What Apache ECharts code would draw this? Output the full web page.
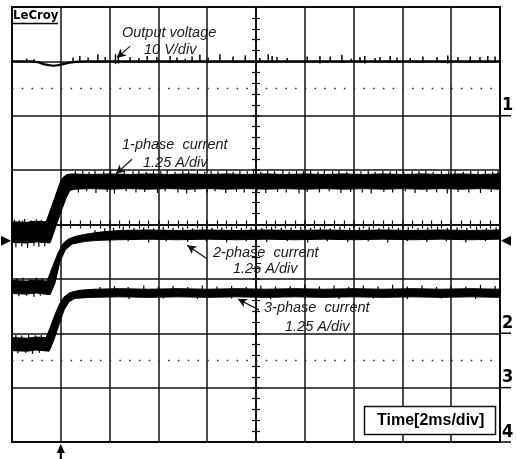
<!DOCTYPE html>
<html><head><meta charset="utf-8">
<script src="https://cdn.jsdelivr.net/npm/echarts@6/dist/echarts.min.js"></script>
<style>html,body{margin:0;padding:0;background:#fff}#c{width:516px;height:459px}</style>
</head><body><div id="c"></div>
<script>
// Time axis in divisions (2 ms/div, 0 = screen centre); values in divisions from screen centre
var timeRange = [-5, 5];
var valueRange = [-4, 4];
var triggerTime = -4;
var groundLevel = -0.30;
var channelLevels = [2, -2, -3, -4];
var channelNames = ['1', '2', '3', '4'];
var dottedLevels = [2.5, -2.5];

// Output voltage (10 V/div)
var vOut = [[-5,3.0],[-4.6,3.0],[-4.45,2.98],[-4.35,2.95],[-4.25,2.93],[-4.15,2.92],[-4.05,2.93],[-3.95,2.95],[-3.85,2.97],[-3.7,2.99],[-3.5,3.0],[5,3.0]];
// spikes: [time, from, to]
var vOutSpikes = [[-4.7,2.99,3.05],[-4.55,2.99,3.04],[-3.75,2.98,3.07],[-3.61,2.99,3.10],[-3.44,2.99,3.07],[-3.24,2.98,3.13],[-3.09,2.99,3.08],[-2.88,2.95,3.13],[-2.82,2.96,3.12],[-2.58,2.99,3.08],[-2.4,2.97,3.06],[-2.23,2.98,3.10],[-2.03,2.99,3.08],[-1.76,2.98,3.10],[-1.62,2.99,3.07],[-1.45,2.99,3.05],[-1.31,2.98,3.09],[-1.15,2.99,3.12],[-0.98,2.97,3.07],[-0.74,2.99,3.13],[-0.47,2.98,3.09],[-0.22,2.99,3.11],[0.08,2.99,3.06],[0.25,2.98,3.13],[0.33,2.99,3.10],[0.43,2.98,3.08],[0.64,2.99,3.06],[1.05,2.98,3.09],[1.31,2.96,3.10],[1.52,2.99,3.09],[1.76,2.98,3.12],[1.95,2.99,3.05],[2.13,2.99,3.08],[2.23,2.96,3.10],[2.44,2.99,3.06],[2.54,2.98,3.08],[2.75,2.99,3.10],[2.89,2.98,3.07],[3.16,2.99,3.06],[3.42,2.98,3.09],[3.71,2.99,3.08],[3.93,2.96,3.11],[4.14,2.99,3.08],[4.39,2.98,3.09],[4.59,2.99,3.08],[4.75,2.98,3.10],[4.90,2.99,3.09]];

// 1-phase current (1.25 A/div): dense core of the noisy trace
var p1Top = [[-5,0.05],[-4.7,0.04],[-4.5,0.06],[-4.3,0.05],[-4.22,0.25],[-4.12,0.50],[-4.02,0.76],[-3.95,0.87],[-3.87,0.92],[-3.77,0.93],
 [-3.4,0.92],[-3.0,0.93],[-2.6,0.92],[-2.2,0.93],[-1.8,0.92],[-1.4,0.93],[-1.0,0.92],[-0.6,0.93],[-0.2,0.92],[0.2,0.93],[0.6,0.92],[1.0,0.93],[1.4,0.92],[1.8,0.93],[2.2,0.92],[2.6,0.93],[3.0,0.92],[3.4,0.93],[3.8,0.92],[4.2,0.93],[4.6,0.92],[5.0,0.93]];
var p1Bot = [[-5,-0.33],[-4.7,-0.34],[-4.5,-0.32],[-4.22,-0.34],[-4.02,0.17],[-3.89,0.49],[-3.81,0.63],[-3.7,0.65],
 [-3.4,0.66],[-3.0,0.65],[-2.6,0.66],[-2.2,0.65],[-1.8,0.66],[-1.4,0.65],[-1.0,0.66],[-0.6,0.65],[-0.2,0.66],[0.2,0.65],[0.6,0.66],[1.0,0.65],[1.4,0.66],[1.8,0.65],[2.2,0.66],[2.6,0.65],[3.0,0.66],[3.4,0.65],[3.8,0.66],[4.2,0.65],[4.6,0.66],[5.0,0.65]];
var p1Spikes = [
 [-4.95,0.0,0.09],[-4.85,0.0,0.08],[-4.74,0.0,0.10],[-4.62,0.0,0.07],[-4.5,0.0,0.09],[-4.4,0.0,0.08],
 [-4.92,-0.42,-0.3],[-4.8,-0.40,-0.3],[-4.68,-0.43,-0.3],[-4.55,-0.39,-0.3],[-4.45,-0.41,-0.3],[-4.33,-0.40,-0.3],
 [-3.7,0.9,0.98],[-3.55,0.9,0.99],[-3.42,0.9,0.97],[-3.3,0.9,0.99],[-3.12,0.9,0.98],[-2.98,0.9,1.0],[-2.85,0.9,0.97],[-2.7,0.9,0.99],[-2.52,0.9,0.98],[-2.4,0.9,0.99],[-2.25,0.9,0.97],[-2.1,0.9,0.99],[-1.95,0.9,0.98],[-1.82,0.9,1.0],[-1.66,0.9,0.97],[-1.5,0.9,0.99],[-1.38,0.9,0.98],[-1.2,0.9,0.99],[-1.05,0.9,0.97],[-0.92,0.9,0.99],[-0.78,0.9,0.98],[-0.6,0.9,1.0],[-0.47,0.9,0.97],[-0.33,0.9,0.99],[-0.18,0.9,0.98],[-0.05,0.9,0.99],[0.1,0.9,0.97],[0.24,0.9,0.99],[0.38,0.9,0.98],[0.55,0.9,1.0],[0.68,0.9,0.97],[0.83,0.9,0.99],[0.97,0.9,0.98],[1.12,0.9,0.99],[1.27,0.9,0.97],[1.4,0.9,0.99],[1.57,0.9,0.98],[1.7,0.9,1.0],[1.86,0.9,0.97],[2.0,0.9,0.99],[2.15,0.9,0.98],[2.3,0.9,0.99],[2.44,0.9,0.97],[2.6,0.9,0.99],[2.75,0.9,0.98],[2.88,0.9,1.0],[3.03,0.9,0.97],[3.2,0.9,0.99],[3.34,0.9,0.98],[3.48,0.9,0.99],[3.63,0.9,0.97],[3.8,0.9,0.99],[3.95,0.9,0.98],[4.08,0.9,1.0],[4.25,0.9,0.97],[4.4,0.9,0.99],[4.55,0.9,0.98],[4.7,0.9,0.99],[4.85,0.9,0.97],[4.96,0.9,0.99],
 [-3.64,0.59,0.7],[-3.47,0.61,0.7],[-3.28,0.58,0.7],[-3.05,0.60,0.7],[-2.9,0.57,0.7],[-2.66,0.61,0.7],[-2.46,0.59,0.7],[-2.28,0.60,0.7],[-2.02,0.58,0.7],[-1.86,0.61,0.7],[-1.6,0.59,0.7],[-1.42,0.57,0.7],[-1.25,0.60,0.7],[-1.0,0.59,0.7],[-0.84,0.61,0.7],[-0.62,0.58,0.7],[-0.4,0.60,0.7],[-0.24,0.59,0.7],[0.02,0.61,0.7],[0.2,0.58,0.7],[0.44,0.60,0.7],[0.62,0.59,0.7],[0.88,0.57,0.7],[1.05,0.60,0.7],[1.3,0.59,0.7],[1.5,0.61,0.7],[1.74,0.58,0.7],[1.94,0.60,0.7],[2.18,0.59,0.7],[2.36,0.57,0.7],[2.62,0.60,0.7],[2.8,0.59,0.7],[3.06,0.61,0.7],[3.26,0.58,0.7],[3.5,0.60,0.7],[3.7,0.59,0.7],[3.92,0.57,0.7],[4.14,0.60,0.7],[4.36,0.59,0.7],[4.6,0.58,0.7],[4.82,0.60,0.7]];

// 2-phase current (1.25 A/div)
var p2Top = [[-5,-1.03],[-4.7,-1.04],[-4.5,-1.02],[-4.28,-1.04],[-4.16,-0.76],[-4.06,-0.53],[-3.955,-0.35],[-3.85,-0.27],[-3.71,-0.22],[-3.5,-0.18],[-3.2,-0.14],
 [-2.8,-0.11],[-2.2,-0.10],[-1.6,-0.11],[-1.0,-0.10],[-0.4,-0.11],[0.2,-0.10],[0.8,-0.11],[1.4,-0.10],[2.0,-0.11],[2.6,-0.10],[3.2,-0.11],[3.8,-0.10],[4.4,-0.11],[5.0,-0.10]];
var p2Bot = [[-5,-1.27],[-4.7,-1.28],[-4.5,-1.26],[-4.22,-1.29],[-4.12,-1.08],[-4.02,-0.69],[-3.91,-0.47],[-3.77,-0.36],[-3.5,-0.31],[-3.2,-0.29],
 [-2.8,-0.28],[-2.2,-0.27],[-1.6,-0.28],[-1.0,-0.27],[-0.4,-0.28],[0.2,-0.27],[0.8,-0.28],[1.4,-0.27],[2.0,-0.28],[2.6,-0.27],[3.2,-0.28],[3.8,-0.27],[4.4,-0.28],[5.0,-0.27]];
var p2Spikes = [
 [-4.9,-1.05,-0.99],[-4.78,-1.05,-0.98],[-4.63,-1.05,-1.0],[-4.5,-1.05,-0.98],[-4.38,-1.05,-0.99],
 [-4.86,-1.32,-1.25],[-4.7,-1.31,-1.25],[-4.55,-1.33,-1.25],[-4.42,-1.31,-1.25],
 [-3.3,-0.15,-0.10],[-3.1,-0.13,-0.07],[-2.92,-0.12,-0.06],[-2.72,-0.12,-0.04],[-2.5,-0.12,-0.06],[-2.3,-0.12,-0.05],[-2.1,-0.12,-0.07],[-1.9,-0.12,-0.04],[-1.7,-0.12,-0.06],[-1.5,-0.12,-0.05],[-1.3,-0.12,-0.07],[-1.1,-0.12,-0.04],[-0.9,-0.12,-0.06],[-0.7,-0.12,-0.05],[-0.5,-0.12,-0.04],[-0.3,-0.12,-0.06],[-0.1,-0.12,-0.05],[0.12,-0.12,-0.06],[0.32,-0.12,-0.04],[0.52,-0.12,-0.06],[0.72,-0.12,-0.05],[0.92,-0.12,-0.04],[1.12,-0.12,-0.06],[1.32,-0.12,-0.05],[1.52,-0.12,-0.07],[1.72,-0.12,-0.04],[1.92,-0.12,-0.06],[2.12,-0.12,-0.05],[2.32,-0.12,-0.04],[2.52,-0.12,-0.06],[2.72,-0.12,-0.05],[2.92,-0.12,-0.06],[3.12,-0.12,-0.04],[3.32,-0.12,-0.06],[3.52,-0.12,-0.05],[3.72,-0.12,-0.04],[3.92,-0.12,-0.06],[4.12,-0.12,-0.05],[4.32,-0.12,-0.06],[4.52,-0.12,-0.04],[4.72,-0.12,-0.06],[4.92,-0.12,-0.05],
 [-3.0,-0.32,-0.26],[-2.62,-0.31,-0.26],[-2.2,-0.33,-0.26],[-1.84,-0.31,-0.26],[-1.4,-0.32,-0.26],[-1.02,-0.31,-0.26],[-0.6,-0.33,-0.26],[-0.2,-0.31,-0.26],[0.22,-0.32,-0.26],[0.64,-0.31,-0.26],[1.06,-0.33,-0.26],[1.46,-0.31,-0.26],[1.88,-0.32,-0.26],[2.3,-0.31,-0.26],[2.7,-0.33,-0.26],[3.1,-0.31,-0.26],[3.5,-0.32,-0.26],[3.9,-0.31,-0.26],[4.3,-0.33,-0.26],[4.7,-0.31,-0.26]];

// 3-phase current (1.25 A/div)
var p3Top = [[-5,-2.08],[-4.7,-2.09],[-4.5,-2.07],[-4.30,-2.08],[-4.22,-1.90],[-4.12,-1.66],[-4.02,-1.45],[-3.93,-1.33],[-3.81,-1.25],[-3.61,-1.21],[-3.3,-1.19],
 [-2.8,-1.18],[-2.2,-1.19],[-1.6,-1.18],[-1.0,-1.19],[-0.4,-1.18],[0.2,-1.19],[0.8,-1.18],[1.4,-1.19],[2.0,-1.18],[2.6,-1.19],[3.2,-1.18],[3.8,-1.19],[4.4,-1.18],[5.0,-1.19]];
var p3Bot = [[-5,-2.32],[-4.7,-2.33],[-4.5,-2.31],[-4.24,-2.33],[-4.14,-2.12],[-4.04,-1.85],[-3.93,-1.57],[-3.83,-1.42],[-3.71,-1.36],[-3.4,-1.34],
 [-2.8,-1.33],[-2.2,-1.34],[-1.6,-1.33],[-1.0,-1.34],[-0.4,-1.33],[0.2,-1.34],[0.8,-1.33],[1.4,-1.34],[2.0,-1.33],[2.6,-1.34],[3.2,-1.33],[3.8,-1.34],[4.4,-1.33],[5.0,-1.34]];
var p3Spikes = [
 [-4.92,-2.1,-2.03],[-4.8,-2.1,-2.04],[-4.66,-2.1,-2.02],[-4.52,-2.1,-2.04],[-4.4,-2.1,-2.03],
 [-4.88,-2.37,-2.3],[-4.72,-2.36,-2.3],[-4.58,-2.38,-2.3],[-4.44,-2.36,-2.3],
 [-3.2,-1.2,-1.15],[-2.9,-1.2,-1.13],[-2.62,-1.2,-1.15],[-2.3,-1.2,-1.12],[-2.0,-1.2,-1.14],[-1.7,-1.2,-1.13],[-1.4,-1.2,-1.15],[-1.1,-1.2,-1.12],[-0.8,-1.2,-1.14],[-0.5,-1.2,-1.13],[-0.2,-1.2,-1.15],[0.1,-1.2,-1.12],[0.4,-1.2,-1.14],[0.7,-1.2,-1.13],[1.0,-1.2,-1.11],[1.3,-1.2,-1.14],[1.6,-1.2,-1.12],[1.9,-1.2,-1.15],[2.2,-1.2,-1.12],[2.5,-1.2,-1.14],[2.8,-1.2,-1.11],[3.1,-1.2,-1.14],[3.4,-1.2,-1.12],[3.7,-1.2,-1.15],[4.0,-1.2,-1.12],[4.3,-1.2,-1.14],[4.6,-1.2,-1.11],[4.9,-1.2,-1.13],
 [-2.6,-1.37,-1.32],[-1.9,-1.36,-1.32],[-1.2,-1.37,-1.32],[-0.5,-1.36,-1.32],[0.3,-1.37,-1.32],[1.0,-1.36,-1.32],[1.7,-1.37,-1.32],[2.4,-1.36,-1.32],[3.1,-1.37,-1.32],[3.8,-1.36,-1.32],[4.5,-1.37,-1.32]];

// annotation arrows [tail, head] in (time, value) divisions
var annotArrows = [[[-2.58,3.28],[-2.85,3.06]],[[-2.54,1.20],[-2.87,0.93]],[[-1.02,-0.62],[-1.41,-0.38]],[[0.06,-1.57],[-0.37,-1.37]]];

var FONT = '"Liberation Sans", Arial, sans-serif';
var INK = '#111';

function band(top, bot) {
  return {
    type: 'custom', coordinateSystem: 'cartesian2d', silent: true, z: 5,
    data: [[0, 0]],
    renderItem: function (params, api) {
      var pts = top.map(function (p) { return api.coord(p); })
        .concat(bot.slice().reverse().map(function (p) { return api.coord(p); }));
      return { type: 'polygon', shape: { points: pts }, style: { fill: '#000', stroke: '#000', lineWidth: 1 } };
    }
  };
}
function spikes(data, w) {
  return {
    type: 'custom', coordinateSystem: 'cartesian2d', silent: true, z: 6,
    data: data, encode: { x: 0, y: [1, 2] },
    renderItem: function (params, api) {
      var a = api.coord([api.value(0), api.value(1)]);
      var b = api.coord([api.value(0), api.value(2)]);
      return { type: 'line', shape: { x1: a[0], y1: a[1], x2: b[0], y2: b[1] }, style: { stroke: '#000', lineWidth: w } };
    }
  };
}

function axisPair(dim, inside, withSplit) {
  var isX = dim === 'x';
  return {
    type: 'value',
    min: isX ? timeRange[0] : valueRange[0],
    max: isX ? timeRange[1] : valueRange[1],
    interval: 1,
    position: isX ? 'bottom' : 'left',
    axisLine: { show: true, onZero: true, onZeroAxisIndex: 0, lineStyle: { color: INK, width: 1.5 } },
    axisTick: { show: true, inside: inside, length: 4, lineStyle: { color: INK, width: 1.5 } },
    minorTick: { show: true, splitNumber: 5, length: 4, lineStyle: { color: INK, width: 1.2 } },
    axisLabel: { show: false },
    splitLine: { show: withSplit, lineStyle: { color: INK, width: 1.5 } },
    minorSplitLine: { show: false }
  };
}

var chart = echarts.init(document.getElementById('c'), null, { renderer: 'canvas' });
var option = {
  animation: false,
  backgroundColor: '#fff',
  grid: { left: 12, top: 7, width: 488, height: 435, show: true, borderColor: '#000', borderWidth: 2, backgroundColor: 'transparent' },
  xAxis: [axisPair('x', true, true), axisPair('x', false, false)],
  yAxis: [axisPair('y', true, true), axisPair('y', false, false)],
  series: [
    {
      type: 'line', silent: true, symbol: 'none', z: 3,
      data: [[timeRange[0], dottedLevels[0]], [timeRange[1], dottedLevels[0]]],
      lineStyle: { color: '#333', width: 1.6, type: [1.6, 8.16] }
    },
    {
      type: 'line', silent: true, symbol: 'none', z: 3,
      data: [[timeRange[0], dottedLevels[1]], [timeRange[1], dottedLevels[1]]],
      lineStyle: { color: '#333', width: 1.6, type: [1.6, 8.16] }
    },
    {
      type: 'line', silent: true, symbol: 'none', z: 6, data: vOut,
      lineStyle: { color: '#000', width: 2.2 },
      markLine: {
        silent: true, symbol: ['none', 'arrow'], symbolSize: [7, 9],
        label: { show: false },
        lineStyle: { color: '#111', width: 1.2, type: 'solid' },
        data: annotArrows.map(function (a) { return [{ coord: a[0] }, { coord: a[1] }]; })
      }
    },
    spikes(vOutSpikes, 1.5),
    band(p1Top, p1Bot),
    band(p2Top, p2Bot),
    band(p3Top, p3Bot),
    spikes(p1Spikes, 1.2),
    spikes(p2Spikes, 1.2),
    spikes(p3Spikes, 1.2)
  ]
};
chart.setOption(option);

function px(t, v) { return chart.convertToPixel({ xAxisIndex: 0, yAxisIndex: 0 }, [t, v]); }
var g = [];
function txt(s, x, y, font, extra) {
  var st = { text: s, x: x, y: y, font: font, fill: '#1a1a1a', verticalAlign: 'middle', align: 'left' };
  if (extra) for (var k in extra) st[k] = extra[k];
  g.push({ type: 'text', z: 50, silent: true, style: st });
}
var IT = 'italic 14.5px ' + FONT;
txt('Output voltage', 122, 33, IT);
txt('10 V/div', 144, 50, IT);
txt('1-phase  current', 122, 145, IT);
txt('1.25 A/div', 143, 163, IT);
txt('2-phase  current', 213, 253, IT);
txt('1.25 A/div', 233, 269, IT);
txt('3-phase  current', 264, 308, IT);
txt('1.25 A/div', 285, 327, IT);

// LeCroy logo
txt('LeCroy', 13, 16, 'bold 13px "DejaVu Sans Condensed", ' + FONT, { fill: '#000' });
g.push({ type: 'line', z: 50, silent: true, shape: { x1: 13, y1: 23.5, x2: 58, y2: 23.5 }, style: { stroke: '#000', lineWidth: 1.5 } });

// Time box
g.push({ type: 'rect', z: 40, silent: true, shape: { x: 364.5, y: 406.5, width: 131, height: 28 }, style: { fill: '#fff', stroke: '#111', lineWidth: 1.5 } });
txt('Time[2ms/div]', 377, 421, 'bold 16px ' + FONT, { fill: '#000' });

// channel labels
channelLevels.forEach(function (lv, i) {
  var p = px(timeRange[1], lv);
  txt(channelNames[i], p[0] + 2, p[1] - 10, 'bold 18px "DejaVu Sans Condensed", ' + FONT, { fill: '#000' });
  g.push({ type: 'line', z: 50, silent: true, shape: { x1: p[0], y1: p[1], x2: p[0] + 11, y2: p[1] }, style: { stroke: '#000', lineWidth: 1.5 } });
});

// ground markers
var gl = px(timeRange[0], groundLevel), gr = px(timeRange[1], groundLevel);
g.push({ type: 'polygon', z: 50, silent: true, shape: { points: [[gl[0] - 11, gl[1] - 5], [gl[0] - 11, gl[1] + 5], [gl[0] - 1, gl[1]]] }, style: { fill: '#000' } });
g.push({ type: 'polygon', z: 50, silent: true, shape: { points: [[gr[0] + 11, gr[1] - 5], [gr[0] + 11, gr[1] + 5], [gr[0] + 1, gr[1]]] }, style: { fill: '#000' } });

// trigger marker
var tb = px(triggerTime, valueRange[0]);
g.push({ type: 'line', z: 50, silent: true, shape: { x1: tb[0], y1: tb[1] + 6, x2: tb[0], y2: 459 }, style: { stroke: '#000', lineWidth: 2.2 } });
g.push({ type: 'polygon', z: 50, silent: true, shape: { points: [[tb[0] - 4, tb[1] + 11], [tb[0] + 4, tb[1] + 11], [tb[0], tb[1] + 2]] }, style: { fill: '#000' } });

chart.setOption({ graphic: { elements: g } });
</script></body></html>
